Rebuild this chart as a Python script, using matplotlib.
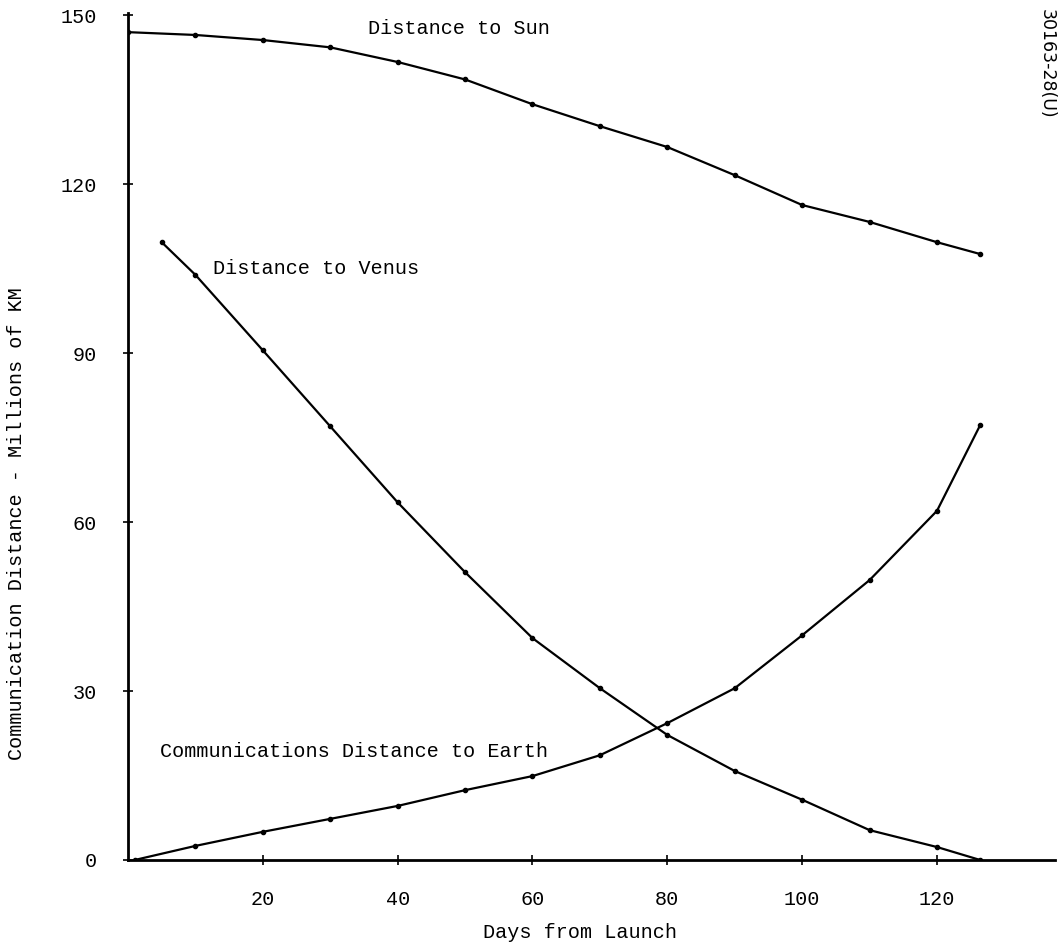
import matplotlib
matplotlib.use('Agg')
import matplotlib.pyplot as plt

plt.rcParams['font.family'] = 'Liberation Mono'

# values (millions of km)
sun_days = [0, 10, 20, 30, 40, 50, 60, 70, 80, 90, 100, 110, 120, 126.4]
sun_dist = [147.0, 146.5, 145.6, 144.3, 141.7, 138.6, 134.2, 130.3, 126.6, 121.6, 116.3, 113.3, 109.7, 107.6]

venus_days = [5, 10, 20, 30, 40, 50, 60, 70, 80, 90, 100, 110, 120, 126.4]
venus_dist = [109.7, 103.9, 90.5, 77.0, 63.5, 51.1, 39.4, 30.5, 22.2, 15.8, 10.7, 5.3, 2.3, 0.0]

earth_days = [1, 10, 20, 30, 40, 50, 60, 70, 80, 90, 100, 110, 120, 126.4]
earth_dist = [0.0, 2.5, 5.0, 7.3, 9.6, 12.4, 14.9, 18.6, 24.3, 30.5, 39.9, 49.7, 62.0, 77.2]

x_ticks = [20, 40, 60, 80, 100, 120]
y_ticks = [0, 30, 60, 90, 120, 150]

fig = plt.figure(figsize=(10.64, 9.49), dpi=100)
ax = fig.add_axes([0.1203, 0.0938, 0.9915 - 0.1203, 0.9863 - 0.0938])

for d, v in [(sun_days, sun_dist), (venus_days, venus_dist), (earth_days, earth_dist)]:
    ax.plot(d, v, color='black', lw=1.6, marker='o', ms=3)

ax.set_xlim(0, 137.5)
ax.set_ylim(0, 150.4)
ax.set_xticks(x_ticks)
ax.set_yticks(y_ticks)

for s in ['top', 'right']:
    ax.spines[s].set_visible(False)
for s in ['left', 'bottom']:
    ax.spines[s].set_linewidth(2)

ax.tick_params(axis='x', direction='inout', length=7, width=1.2, pad=18, labelsize=14.5)
ax.tick_params(axis='y', direction='inout', length=7, width=1.2, pad=19, labelsize=14.5)

fig.text(580 / 1064, 1 - 932 / 949, 'Days from Launch', fontsize=14.5, ha='center', va='center')
fig.text(17 / 1064, 1 - 524 / 949, 'Communication Distance - Millions of KM', fontsize=14.5,
         rotation=90, ha='center', va='center')

ax.text(35.6, 147.7, 'Distance to Sun', fontsize=14.5, va='center')
ax.text(12.6, 105.1, 'Distance to Venus', fontsize=14.5, va='center')
ax.text(4.75, 19.2, 'Communications Distance to Earth', fontsize=14.5, va='center')

fig.text(0.984, 0.99, '30163-28(U)', rotation=-90, ha='center', va='top',
         fontsize=12.5, family='DejaVu Sans')

fig.savefig('out.png', dpi=100)
